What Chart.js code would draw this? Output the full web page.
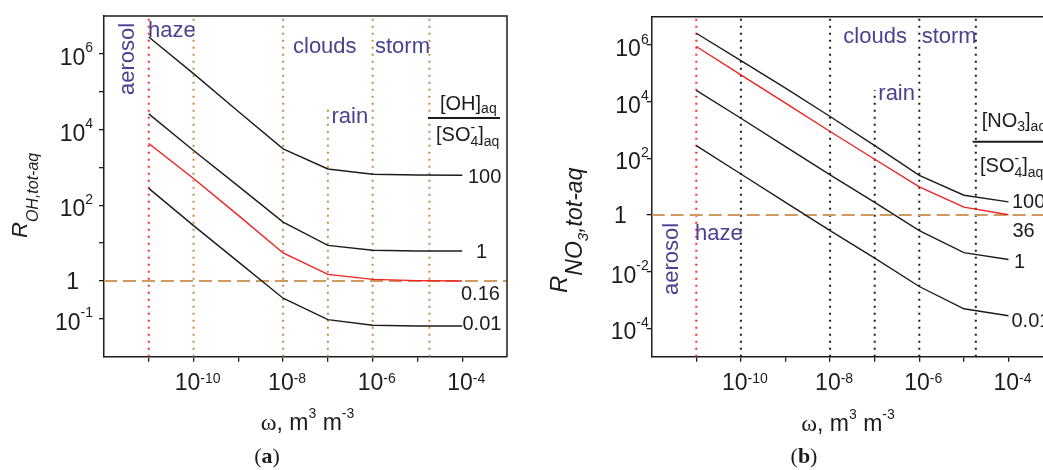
<!DOCTYPE html>
<html>
<head>
<meta charset="utf-8">
<script src="https://cdn.jsdelivr.net/npm/chart.js@4.4.1/dist/chart.umd.min.js"></script>
<style>
  html, body { margin: 0; padding: 0; background: #fff; overflow: hidden; width: 1043px; height: 470px; }
  canvas { position: absolute; top: 0; }
  #chartA { left: 0; }
  #chartB { left: 520px; }
</style>
</head>
<body>
<canvas id="chartA" width="520" height="470"></canvas>
<canvas id="chartB" width="560" height="470"></canvas>
<script>
// liquid water content, m3 m-3, where each curve is evaluated
const omega = [1e-11, 1e-10, 1e-9, 1e-8, 1e-7, 1e-6, 1e-5, 1e-4];

// (a) R_OH,tot-aq for [OH]aq/[SO4-]aq = 100, 1, 0.16, 0.01
const ohNames = ['100', '1', '0.16', '0.01'];
const oh100 = [2.8e6, 3.0e5, 3.0e4, 3.1e3, 910, 660, 630, 620];
const oh1 = [2.6e4, 2.8e3, 320, 36, 8.7, 6.5, 6.2, 6.2];
const oh016 = [4.3e3, 510, 54, 5.5, 1.5, 1.1, 1.02, 1.0];
const oh001 = [280, 29, 3.2, 0.35, 0.095, 0.068, 0.065, 0.065];

// (b) R_NO3,tot-aq for [NO3]aq/[SO4-]aq = 100, 36, 1, 0.01
const no3Names = ['100', '36', '1', '0.01'];
const no3100 = [2.6e6, 2.8e5, 3.0e4, 3.0e3, 280, 25, 5.0, 2.9];
const no336 = [8.9e5, 8.9e4, 8.9e3, 890, 93, 9.8, 1.9, 1.02];
const no31 = [2.5e4, 2.6e3, 260, 26, 2.8, 0.28, 0.047, 0.027];
const no3001 = [280, 28, 2.8, 0.28, 0.030, 0.003, 4.9e-4, 2.8e-4];

// regime boundaries (aerosol | haze | ... | clouds | storm)
const aerosolEdge = 1e-11;
const regimeEdges = [1e-10, 1e-8, 1e-6, 1.85e-5];
const rainEdge = 1e-7;
const rainTopA = 3.6e4;
const rainTopB = 2.6e4;
const unity = 1;

// axes
const xRange = [1e-12, 1e-3];
const yRangeA = [1e-2, 1e7];
const yRangeB = [1e-5, 1e7];
const xTicks = [1e-11, 1e-10, 1e-9, 1e-8, 1e-7, 1e-6, 1e-5, 1e-4];
const xTickLabels = [1e-10, 1e-8, 1e-6, 1e-4];
const yTicksA = [1e-1, 1, 1e1, 1e2, 1e3, 1e4, 1e5, 1e6];
const yTickLabelsA = [1e-1, 1, 1e2, 1e4, 1e6];
const yTicksB = [1e-4, 1e-2, 1, 1e2, 1e4, 1e6];
const yTickLabelsB = [1e-4, 1e-2, 1, 1e2, 1e4, 1e6];

const SANS = '"Liberation Sans", Arial, sans-serif';
const SERIF = '"Liberation Serif", "Times New Roman", serif';
const INK = '#1c1c1c';
const REGION = '#4a4290';
const ORANGE = '#c98b48';
const TAN = '#cf9a5e';
const RED = '#ee2222';

function curve(ys, color) {
  return {
    data: omega.map((x, i) => ({ x, y: ys[i] })),
    borderColor: color, borderWidth: 1.4, pointRadius: 0, tension: 0
  };
}

function vline(x, y0, y1, color) {
  return {
    data: [{ x, y: y0 }, { x, y: y1 }],
    borderColor: color, borderWidth: 2, borderDash: [2, 5], pointRadius: 0
  };
}

function hline(y, color) {
  return {
    data: [{ x: xRange[0], y }, { x: xRange[1], y }],
    borderColor: color, borderWidth: 2, borderDash: [13, 6], pointRadius: 0
  };
}

// text helpers: a list of runs drawn one after another (sub/superscripts)
function setFont(ctx, p) {
  ctx.font = (p.style || '') + ' ' + p.size + 'px ' + (p.family || SANS);
}
function partsWidth(ctx, parts) {
  let w = 0;
  parts.forEach(p => { setFont(ctx, p); if (!p.stay) w += ctx.measureText(p.t).width; });
  return w;
}
function drawParts(ctx, x, y, parts) {
  let cx = x;
  parts.forEach(p => {
    setFont(ctx, p);
    ctx.fillText(p.t, cx, y + (p.dy || 0));
    if (!p.stay) cx += ctx.measureText(p.t).width;
  });
}
function drawRotated(ctx, x, y, parts) {
  ctx.save();
  ctx.translate(x, y);
  ctx.rotate(-Math.PI / 2);
  drawParts(ctx, 0, 0, parts);
  ctx.restore();
}
function powerLabel(v, raise) {
  if (v === 1) return [{ t: '1', size: 23 }];
  return [{ t: '10', size: 23 }, { t: String(Math.round(Math.log10(v))), size: 14, dy: -raise }];
}

const omegaTitle = [
  { t: 'ω', size: 24, family: SERIF }, { t: ', m', size: 23 }, { t: '3', size: 14, dy: -12 },
  { t: ' m', size: 23 }, { t: '-3', size: 14, dy: -12 }
];

function decorate(chart, spec) {
  const { ctx, chartArea: a, scales: { x, y } } = chart;
  ctx.save();
  ctx.strokeStyle = INK;
  ctx.lineWidth = 1.5;
  ctx.beginPath();
  ctx.moveTo(a.left, a.top);
  ctx.lineTo(a.right, a.top);
  ctx.lineTo(a.right, a.bottom);
  ctx.stroke();

  ctx.textAlign = 'left';
  ctx.textBaseline = 'alphabetic';
  ctx.fillStyle = INK;

  spec.yLabels.forEach(v => {
    const parts = powerLabel(v, 12.5);
    const w = partsWidth(ctx, parts);
    const right = a.left - (v === 1 ? 25 : spec.yGap);
    drawParts(ctx, right - w, y.getPixelForValue(v) + (v === 1 ? 8 : 11), parts);
  });
  xTickLabels.forEach(v => {
    const parts = powerLabel(v, 7);
    const w = partsWidth(ctx, parts);
    drawParts(ctx, x.getPixelForValue(v) + 4 - w / 2, a.bottom + 33, parts);
  });

  // axis titles
  const tw = partsWidth(ctx, omegaTitle);
  drawParts(ctx, spec.xTitle[0] - tw / 2, spec.xTitle[1], omegaTitle);
  drawRotated(ctx, spec.yTitle[0], spec.yTitle[1], spec.yTitleParts);

  // panel letter
  const letter = [
    { t: '(', size: 22, family: SERIF }, { t: spec.letter, size: 22, family: SERIF, style: 'bold' },
    { t: ')', size: 22, family: SERIF }
  ];
  drawParts(ctx, spec.letterPos[0] - partsWidth(ctx, letter) / 2, spec.letterPos[1], letter);

  // curve labels
  spec.names.forEach((n, i) => {
    const p = spec.namePos[i];
    drawParts(ctx, p[0], p[1], [{ t: n, size: 20 }]);
  });

  // ratio legend
  ctx.beginPath();
  ctx.lineWidth = 2;
  ctx.moveTo(spec.fracLine[0], spec.fracLine[2]);
  ctx.lineTo(spec.fracLine[1], spec.fracLine[2]);
  ctx.stroke();
  drawParts(ctx, spec.numer[0], spec.numer[1], spec.numerParts);
  drawParts(ctx, spec.denom[0], spec.denom[1], [
    { t: '[SO', size: 20 }, { t: '-', size: 14, dy: -9, stay: true }, { t: '4', size: 14, dy: 5 },
    { t: ']', size: 20 }, { t: 'aq', size: 14, dy: 5 }
  ]);

  // regimes
  ctx.fillStyle = REGION;
  const reg = { size: 22 };
  drawRotated(ctx, spec.aerosol[0], spec.aerosol[1], [{ t: 'aerosol', ...reg }]);
  drawParts(ctx, spec.haze[0], spec.haze[1], [{ t: 'haze', ...reg }]);
  drawParts(ctx, spec.clouds[0], spec.clouds[1], [{ t: 'clouds', ...reg }]);
  drawParts(ctx, spec.storm[0], spec.storm[1], [{ t: 'storm', ...reg }]);
  drawParts(ctx, spec.rain[0], spec.rain[1], [{ t: 'rain', ...reg }]);
  ctx.restore();
}

function makeChart(id, datasets, yRange, yTicks, plotBox, spec) {
  return new Chart(document.getElementById(id), {
    type: 'line',
    data: { datasets },
    options: {
      responsive: false,
      animation: false,
      events: [],
      layout: { padding: { left: 0, top: plotBox.top, right: plotBox.right, bottom: 0 } },
      plugins: { legend: { display: false }, tooltip: { enabled: false } },
      scales: {
        x: {
          type: 'logarithmic', min: xRange[0], max: xRange[1],
          afterBuildTicks: s => { s.ticks = xTicks.map(value => ({ value })); },
          afterFit: s => { s.height = plotBox.xHeight; },
          ticks: { display: false },
          grid: { drawOnChartArea: false, drawTicks: true, tickLength: 5, color: INK, lineWidth: 1.3 },
          border: { display: true, color: INK, width: 1.5 }
        },
        y: {
          type: 'logarithmic', min: yRange[0], max: yRange[1],
          afterBuildTicks: s => { s.ticks = yTicks.map(value => ({ value })); },
          afterFit: s => { s.width = plotBox.yWidth; },
          ticks: { display: false },
          grid: { drawOnChartArea: false, drawTicks: true, tickLength: 5, color: INK, lineWidth: 1.3 },
          border: { display: true, color: INK, width: 1.5 }
        }
      }
    },
    plugins: [{ id: 'decor', afterDraw: chart => decorate(chart, spec) }]
  });
}

// (a) hydroxyl
makeChart('chartA', [
  curve(oh100, INK), curve(oh1, INK), curve(oh016, RED), curve(oh001, INK),
  hline(unity, TAN),
  vline(aerosolEdge, yRangeA[0], yRangeA[1], '#ff2a2a'),
  ...regimeEdges.map(e => vline(e, yRangeA[0], yRangeA[1], ORANGE)),
  vline(rainEdge, yRangeA[0], rainTopA, ORANGE)
], yRangeA, yTicksA, { top: 16, right: 13, xHeight: 113.3, yWidth: 104 }, {
  letter: 'a', letterPos: [267, 463],
  yLabels: yTickLabelsA, yGap: 11,
  xTitle: [307.5, 430],
  yTitle: [27, 238],
  yTitleParts: [{ t: 'R', size: 22, style: 'italic' }, { t: 'OH,tot-aq', size: 16, style: 'italic', dy: 11 }],
  names: ohNames, namePos: [[468, 182.7], [476, 258.3], [461, 300], [462.5, 330]],
  fracLine: [428, 500, 118], numer: [440, 110],
  numerParts: [{ t: '[OH]', size: 20 }, { t: 'aq', size: 14, dy: 3 }],
  denom: [436, 141],
  aerosol: [134, 95], haze: [148, 36.7], clouds: [293, 53.3], storm: [375, 53.3], rain: [331.5, 123.3]
});

// (b) nitrate
makeChart('chartB', [
  curve(no3100, INK), curve(no336, RED), curve(no31, INK), curve(no3001, INK),
  hline(unity, TAN),
  vline(aerosolEdge, yRangeB[0], yRangeB[1], '#ff2a2a'),
  ...regimeEdges.map(e => vline(e, yRangeB[0], yRangeB[1], INK)),
  vline(rainEdge, yRangeB[0], rainTopB, INK)
], yRangeB, yTicksB, { top: 16.7, right: 26.9, xHeight: 113.3, yWidth: 131.7 }, {
  letter: 'b', letterPos: [284, 463],
  yLabels: yTickLabelsB, yGap: 3,
  xTitle: [328, 431],
  yTitle: [47, 293],
  yTitleParts: [
    { t: 'R', size: 24, style: 'italic' }, { t: 'NO', size: 23, style: 'italic', dy: 15 },
    { t: '3', size: 15, style: 'italic', dy: 21 }, { t: ',tot-aq', size: 23, style: 'italic', dy: 15 }
  ],
  names: no3Names, namePos: [[492, 208], [492.5, 236.7], [494, 268.3], [491.5, 326.7]],
  fracLine: [452.7, 560, 141.7], numer: [461.7, 126.7],
  numerParts: [{ t: '[NO', size: 20 }, { t: '3', size: 14, dy: 4 }, { t: ']', size: 20 }, { t: 'aq', size: 14, dy: 4 }],
  denom: [460, 171.7],
  aerosol: [158.3, 295], haze: [175, 240], clouds: [323.3, 43.3], storm: [401.7, 43.3], rain: [358.3, 100]
});
</script>
</body>
</html>
